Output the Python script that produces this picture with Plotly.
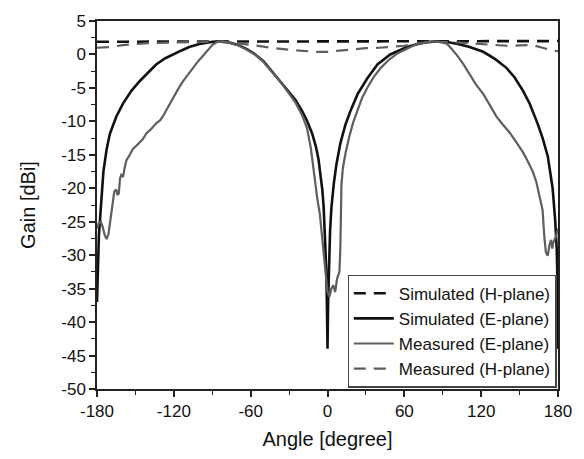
import plotly.graph_objects as go

# ---------------- data ----------------
sim_h_angle = [-180, -135, -90, -45, 0, 45, 90, 135, 180]
sim_h_gain = [1.9, 1.9, 1.95, 1.9, 1.9, 1.9, 1.95, 1.95, 2.0]

sim_e_angle = [-180, -179.6, -179, -178.5, -177.7, -176.5, -175, -172.5, -170, -165,
               -159.6, -153, -146.7, -140, -133.8, -127, -120.9, -114, -108, -100,
               -93, -86, -78, -69.3, -63, -56.4, -50, -43.5, -37, -30.6,
               -25, -20, -16, -12, -9, -7, -5, -4, -3, -2,
               -1, -0.5, 0, 0.5, 1, 2, 3, 4, 5, 7,
               10, 14, 18, 23.6, 31, 39, 49, 56, 62, 69,
               75, 84, 92, 101, 111, 121.6, 131, 139.7, 146, 152.6,
               158, 164, 168, 172, 174, 175.8, 177.8, 179, 179.6, 180]
sim_e_gain = [-37, -33, -29, -27, -24.8, -21, -17.5, -14.2, -11.9, -9.3,
              -7.3, -5.4, -4.0, -2.7, -1.5, -0.6, 0.0, 0.6, 1.1, 1.55,
              1.8, 1.95, 1.85, 1.37, 0.8, 0.0, -1.0, -2.5, -3.9, -5.4,
              -6.8, -8.4, -9.9, -11.8, -13.8, -15.7, -18.5, -20.3, -22.8, -26.5,
              -32, -37, -44, -37, -32, -26.5, -23, -20.8, -19.2, -16.4,
              -13.3, -10.5, -8.4, -5.9, -3.6, -1.5, 0.0, 0.6, 1.1, 1.5,
              1.75, 1.95, 1.9, 1.6, 1.1, 0.4, -0.7, -2.0, -3.4, -5.4,
              -7.4, -10.3, -12.5, -15.2, -17.4, -20, -24.8, -29, -34, -44]

meas_e_angle = [-180, -178.5, -177, -175.5, -174, -172.5, -171, -169.5, -168, -166.5,
                -165, -164, -163, -162, -161, -159.6, -158.5, -157, -155, -151.9,
                -149, -146.7, -144, -141.5, -138, -133.8, -131, -128.7, -125, -120.9,
                -117, -113.2, -109, -105.5, -101, -97.7, -94, -90, -86, -82,
                -76, -69, -63, -56, -50, -43, -37, -31, -25, -20,
                -16, -13, -10, -8, -6, -3.5, -1, 0, 1.5, 3,
                4.5, 6, 7.5, 8.5, 9.3, 10, 10.5, 10.9, 12, 14,
                17, 20, 23.6, 27, 31.3, 36, 41.6, 48, 54.5, 62,
                70, 77, 83, 88, 93.2, 97, 101, 106, 111.3, 116,
                121.6, 127, 132, 137, 142.3, 147, 152.6, 156, 160.3, 163,
                165.5, 168, 169.3, 170.5, 172, 173.3, 174.6, 175.5, 176.5, 178.4,
                180]
meas_e_gain = [-26, -25.2, -25, -25.8, -27, -27.6, -26.8, -24.5, -22, -20.5,
               -20.2, -21, -20.8, -18.5, -18, -18.3, -17, -15.8, -15.2, -14.1,
               -13.6, -13.1, -12.6, -11.8, -11.2, -10.3, -9.9, -9.3, -8.0, -6.5,
               -5.3, -4.1, -3.0, -2.0, -1.0, -0.3, 0.5, 1.4, 1.9, 1.95,
               1.7, 1.3, 0.7, -0.1, -1.1, -2.6, -4.0, -5.6, -7.2, -9.0,
               -11.0, -14, -19, -21.5, -23.8, -28.7, -33.5, -35.5, -36.2, -35,
               -34.5, -35.5, -33.5, -32.8, -32.5, -29, -24, -19.5, -17, -14.8,
               -12.3, -10.2, -8.3, -6.5, -4.9, -3.4, -2.0, -0.8, 0.15, 0.9,
               1.6, 1.85, 1.95, 1.85, 1.6, 0.8, -0.1, -1.4, -3.0, -4.5,
               -5.9, -7.6, -9.3, -10.5, -11.7, -13.0, -14.6, -15.8, -17.5, -19.0,
               -21.0, -23.3, -27.2, -29.5, -30.1, -28.5, -27.7, -29, -28, -27.2,
               -26]

meas_h_angle = [-180, -170, -160, -150, -140, -120, -100, -85, -70, -60,
                -50, -40, -30, -20, -10, 0, 10, 20, 30, 40,
                50, 60, 70, 85, 100, 120, 140, 150, 160, 168,
                175, 180]
meas_h_gain = [1.0, 1.1, 1.4, 1.6, 1.7, 1.8, 1.85, 1.9, 1.7, 1.4,
               1.1, 0.9, 0.7, 0.5, 0.4, 0.4, 0.6, 0.8, 0.95, 1.0,
               1.1, 1.3, 1.6, 1.9, 1.8, 1.6, 1.3, 1.35, 1.4, 1.0,
               0.6, 0.5]

x_ticks = [-180, -120, -60, 0, 60, 120, 180]
y_ticks = [5, 0, -5, -10, -15, -20, -25, -30, -35, -40, -45, -50]

# ---------------- figure ----------------
BLACK = "#111111"
GREY = "#5e5e5e"
FONT = "Arial, Liberation Sans, sans-serif"

fig = go.Figure()
fig.add_trace(go.Scatter(x=sim_h_angle, y=sim_h_gain, mode="lines",
                         name="Simulated (H-plane)",
                         line=dict(color=BLACK, width=2.6, dash="12px,8px")))
fig.add_trace(go.Scatter(x=sim_e_angle, y=sim_e_gain, mode="lines",
                         name="Simulated (E-plane)",
                         line=dict(color=BLACK, width=2.6)))
fig.add_trace(go.Scatter(x=meas_e_angle, y=meas_e_gain, mode="lines",
                         name="Measured (E-plane)",
                         line=dict(color=GREY, width=2.2)))
fig.add_trace(go.Scatter(x=meas_h_angle, y=meas_h_gain, mode="lines",
                         name="Measured (H-plane)",
                         line=dict(color=GREY, width=2.2, dash="12px,8px")))

axis_common = dict(
    showgrid=False, zeroline=False, showline=True, linecolor="#222222", linewidth=1.5,
    mirror=True, ticks="outside", ticklen=6, tickwidth=1.5, tickcolor="#222222",
    tickfont=dict(family=FONT, size=17, color="#111111"),
)

fig.update_xaxes(range=[-180, 180], tickvals=x_ticks, ticktext=[str(v) for v in x_ticks],
                 minor=dict(dtick=30, tick0=0, ticks="outside", ticklen=4, tickwidth=1.3,
                            tickcolor="#222222"),
                 title=dict(text="Angle [degree]", standoff=12,
                            font=dict(family=FONT, size=20, color="#111111")),
                 **axis_common)
fig.update_yaxes(range=[-50, 5], tickvals=y_ticks, ticktext=[str(v) for v in y_ticks],
                 minor=dict(dtick=2.5, tick0=0, ticks="outside", ticklen=4, tickwidth=1.3,
                            tickcolor="#222222"),
                 title=dict(text="Gain [dBi]", standoff=20,
                            font=dict(family=FONT, size=20, color="#111111")),
                 **axis_common)

fig.update_layout(
    width=584, height=459,
    margin=dict(l=97, r=22, t=13, b=62),
    paper_bgcolor="white", plot_bgcolor="white",
    showlegend=True,
    legend=dict(x=0.997, y=0.004, xanchor="right", yanchor="bottom",
                bgcolor="white", bordercolor="#444444", borderwidth=1.2,
                font=dict(family=FONT, size=17, color="#111111"),
                tracegroupgap=0, itemwidth=40),
)

fig.write_html("out.html")
